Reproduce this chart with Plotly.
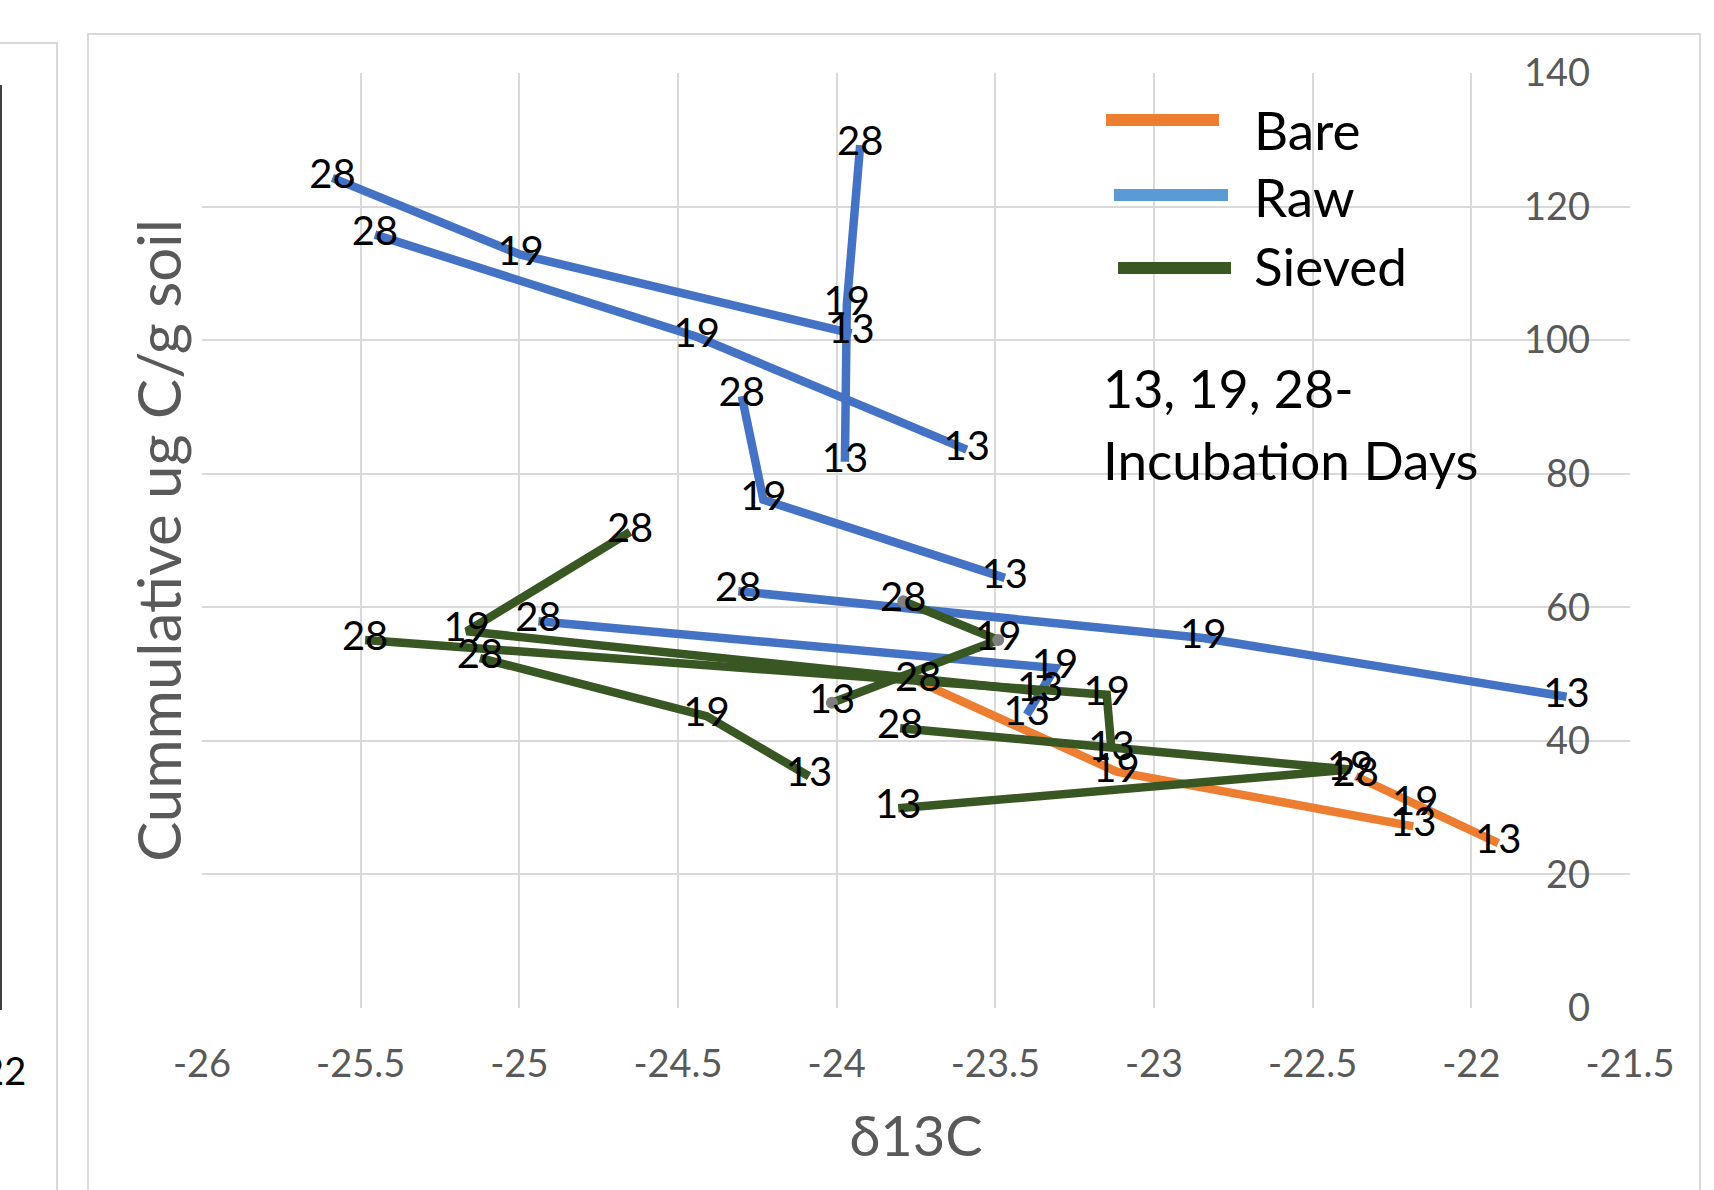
import plotly.graph_objects as go

# ---------------- data ----------------
days = ["13", "19", "28"]

# Bare (orange) series, points ordered day 13, 19, 28
bare_x = [[-22.183, -23.118, -23.743],
          [-21.915, -22.177, -22.364]]
bare_y = [[27.2, 35.4, 48.9],
          [24.7, 30.4, 34.7]]

# Raw (blue) series
raw_x = [[-23.953, -24.996, -25.589],
         [-23.590, -24.441, -25.455],
         [-23.974, -23.968, -23.926],
         [-23.470, -24.231, -24.299],
         [-21.700, -22.845, -24.310],
         [-23.401, -23.312, -24.940]]
raw_y = [[101.0, 112.8, 124.3],
         [83.6, 100.5, 115.8],
         [81.8, 105.3, 129.2],
         [64.4, 76.1, 91.6],
         [46.6, 55.4, 62.4],
         [43.9, 50.9, 57.9]]

# Sieved (dark green) series
sieved_x = [[-24.015, -23.491, -23.790],
            [-24.087, -24.410, -25.124],
            [-23.359, -25.166, -24.651],
            [-23.134, -23.149, -25.486],
            [-23.806, -22.382, -23.800]]
sieved_y = [[45.7, 55.1, 60.9],
            [34.7, 43.7, 52.4],
            [47.4, 56.4, 71.3],
            [38.7, 46.9, 55.1],
            [29.9, 35.7, 41.9]]

x_tick_vals = [-26, -25.5, -25, -24.5, -24, -23.5, -23, -22.5, -22, -21.5]
x_tick_text = ["-26", "-25.5", "-25", "-24.5", "-24", "-23.5", "-23", "-22.5", "-22", "-21.5"]
y_tick_vals = [0, 20, 40, 60, 80, 100, 120, 140]
y_tick_text = ["0", "20", "40", "60", "80", "100", "120", "140"]

legend_names = ["Bare", "Raw", "Sieved"]
legend_colors = ["#ED7D31", "#5B9BD5", "#385723"]

# ---------------- styles ----------------
ORANGE = "#ED7D31"
BLUE = "#4472C4"
GREEN = "#385723"
GRID = "#D9D9D9"
AXIS_TXT = "#595959"
FONT = "Lato, Carlito, 'Open Sans', sans-serif"

W, H = 1714, 1190
L, R, T, B = 202, 84, 73, 182
PW, PH = W - L - R, H - T - B


def pxx(p):
    return (p - L) / PW


def pxy(p):
    return (H - B - p) / PH


fig = go.Figure()

groups = [(bare_x, bare_y, ORANGE, "Bare"),
          (raw_x, raw_y, BLUE, "Raw"),
          (sieved_x, sieved_y, GREEN, "Sieved")]

# lines first
for xs, ys, col, name in groups:
    for i, (sx, sy) in enumerate(zip(xs, ys)):
        marker = dict(size=1, color=col)
        mode = "lines"
        if name == "Sieved" and i == 0:
            mode = "lines+markers"
            marker = dict(size=12, color="#7F7F7F")
        fig.add_trace(go.Scatter(x=sx, y=sy, mode=mode, name=name,
                                 line=dict(color=col, width=8.5),
                                 marker=marker, showlegend=False,
                                 hoverinfo="skip"))

# data labels on top
for xs, ys, col, name in groups:
    for sx, sy in zip(xs, ys):
        fig.add_trace(go.Scatter(x=sx, y=sy, mode="text", text=days,
                                 textposition="middle center",
                                 textfont=dict(family=FONT, size=40, color="#000000"),
                                 showlegend=False, hoverinfo="skip",
                                 xaxis="x", yaxis="y2", cliponaxis=False))

shapes = [
    # chart frame
    dict(type="rect", xref="paper", yref="paper", x0=pxx(88), x1=pxx(1700),
         y0=pxy(1230), y1=pxy(34), line=dict(color=GRID, width=2), layer="below"),
    # neighbouring chart frame (left edge of image)
    dict(type="rect", xref="paper", yref="paper", x0=pxx(-30), x1=pxx(57),
         y0=pxy(1230), y1=pxy(43), line=dict(color=GRID, width=2), layer="below"),
    dict(type="line", xref="paper", yref="paper", x0=pxx(1), x1=pxx(1),
         y0=pxy(1010), y1=pxy(85), line=dict(color="#000000", width=1.5)),
]

# manual legend swatches
sw = [(1106, 1219, 120), (1114, 1228, 195), (1118, 1231, 268)]
for (x0, x1, yy), c in zip(sw, legend_colors):
    shapes.append(dict(type="line", xref="paper", yref="paper",
                       x0=pxx(x0), x1=pxx(x1), y0=pxy(yy), y1=pxy(yy),
                       line=dict(color=c, width=12)))

annotations = []
for (nm, yy) in zip(legend_names, [129, 197, 265]):
    annotations.append(dict(text=nm, xref="paper", yref="paper", x=pxx(1252), y=pxy(yy),
                            xanchor="left", yanchor="middle", showarrow=False,
                            font=dict(family=FONT, size=53, color="#000000")))
annotations.append(dict(text="13, 19, 28-", xref="paper", yref="paper", x=pxx(1101), y=pxy(388),
                        xanchor="left", yanchor="middle", showarrow=False,
                        font=dict(family=FONT, size=52, color="#000000")))
annotations.append(dict(text="Incubation Days", xref="paper", yref="paper", x=pxx(1101), y=pxy(459),
                        xanchor="left", yanchor="middle", showarrow=False,
                        font=dict(family=FONT, size=53, color="#000000")))
annotations.append(dict(text="-22", xref="paper", yref="paper", x=pxx(28), y=pxy(1070),
                        xanchor="right", yanchor="middle", showarrow=False,
                        font=dict(family=FONT, size=38, color="#000000")))

fig.update_layout(
    width=W, height=H,
    margin=dict(l=L, r=R, t=T, b=B, pad=0),
    paper_bgcolor="white", plot_bgcolor="white",
    showlegend=False,
    font=dict(family=FONT, color=AXIS_TXT),
    xaxis=dict(range=[-26, -21.5], tickvals=x_tick_vals, ticktext=x_tick_text,
               showgrid=True, gridcolor=GRID, gridwidth=1.5, zeroline=False,
               showline=False, ticks="outside", ticklen=22,
               tickcolor="rgba(0,0,0,0)", automargin=False,
               tickfont=dict(family=FONT, size=38, color=AXIS_TXT),
               title=dict(text="δ13C", standoff=33,
                          font=dict(family=FONT, size=56, color=AXIS_TXT))),
    yaxis=dict(range=[0, 140], tickvals=y_tick_vals, showgrid=True,
               gridcolor=GRID, gridwidth=1.5, zeroline=False, showline=False,
               showticklabels=False, ticks="", automargin=False,
               title=dict(text="Cummulative ug C/g soil", standoff=0,
                          font=dict(family=FONT, size=60, color=AXIS_TXT))),
    yaxis2=dict(range=[0, 140], tickvals=y_tick_vals, ticktext=y_tick_text,
                overlaying="y", anchor="free", position=pxx(1590), side="left",
                showgrid=False, zeroline=False, showline=False, ticks="",
                automargin=False,
                tickfont=dict(family=FONT, size=38, color=AXIS_TXT)),
    shapes=shapes,
    annotations=annotations,
)

fig.write_html("out.html", config={"displayModeBar": False},
               post_script="document.body.style.margin='0px';document.body.style.overflow='hidden';")
